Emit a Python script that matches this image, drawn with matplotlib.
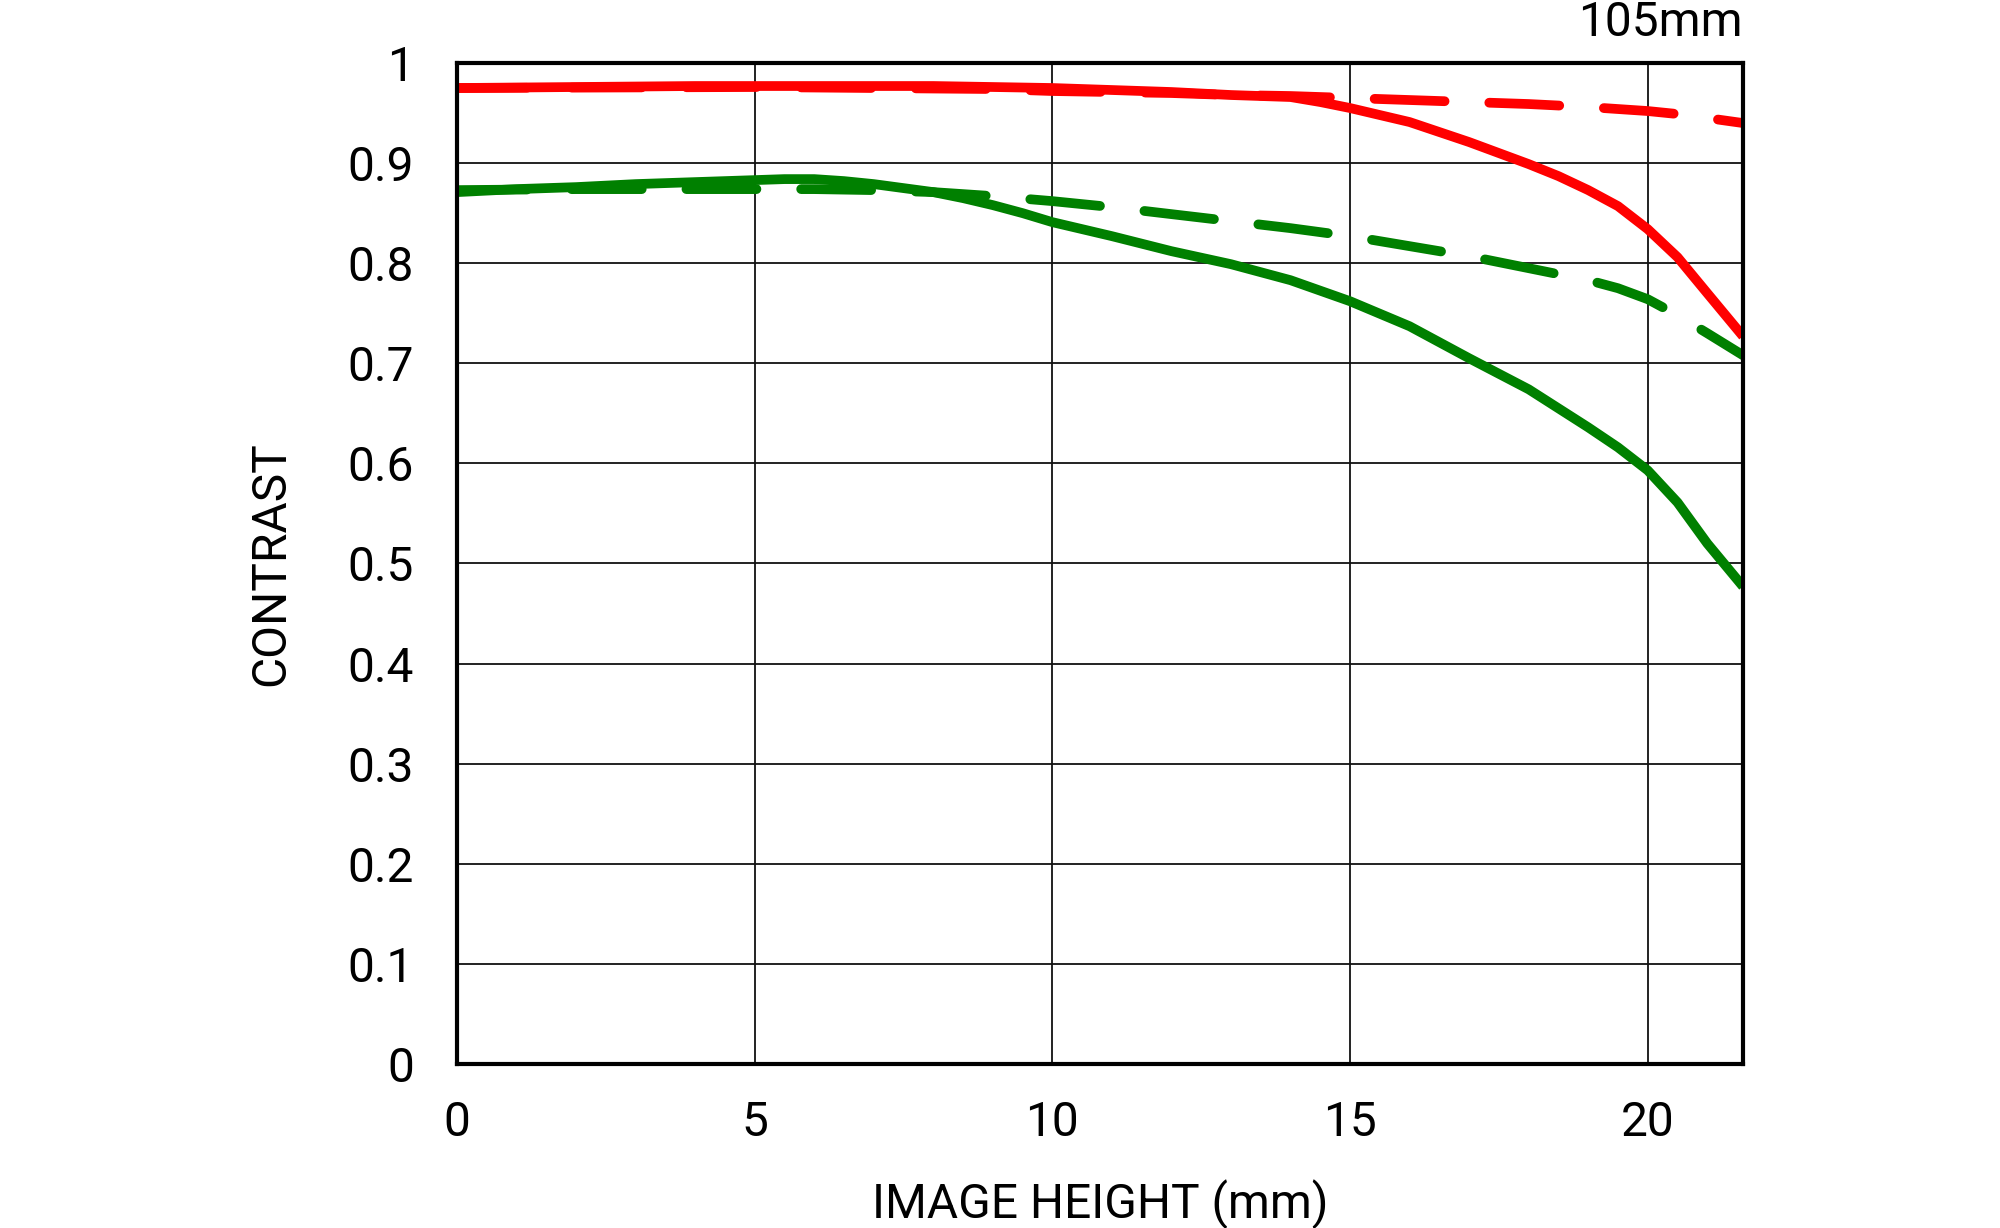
import matplotlib
matplotlib.use("Agg")
from matplotlib import pyplot as plt

plt.rcParams['font.family'] = ['Roboto', 'DejaVu Sans']

# red lines
x_red_solid = [0, 2, 4, 6, 8, 9, 10, 11, 12, 13, 14, 14.5, 15, 15.5, 16, 16.5, 17, 17.5, 18, 18.5,
               19, 19.5, 20, 20.5, 21, 21.6]
y_red_solid = [0.975, 0.976, 0.977, 0.977, 0.977, 0.976, 0.975, 0.973, 0.971, 0.968, 0.966, 0.961,
               0.955, 0.948, 0.941, 0.931, 0.921, 0.910, 0.899, 0.887, 0.873, 0.857, 0.834, 0.806,
               0.770, 0.727]

x_red_dash = [0, 5, 9, 10, 12, 13, 14, 15, 16, 17, 18, 19, 20, 20.5, 21, 21.6]
y_red_dash = [0.975, 0.976, 0.974, 0.972, 0.970, 0.968, 0.967, 0.965, 0.963, 0.961, 0.959, 0.956,
              0.952, 0.949, 0.945, 0.940]

# green lines
x_green_solid = [0, 1, 2, 3, 4, 5, 5.5, 6, 6.5, 7, 7.5, 8, 8.5, 9, 9.5, 10, 11, 12, 13, 14, 15, 16,
                 17, 18, 18.5, 19, 19.5, 20, 20.5, 21, 21.6]
y_green_solid = [0.871, 0.874, 0.876, 0.879, 0.881, 0.883, 0.884, 0.884, 0.882, 0.879, 0.875, 0.871,
                 0.865, 0.858, 0.850, 0.841, 0.827, 0.812, 0.799, 0.783, 0.762, 0.737, 0.705, 0.674,
                 0.655, 0.636, 0.616, 0.593, 0.561, 0.520, 0.477]

x_green_dash = [0, 2, 4, 6, 7, 8, 9, 10, 11, 12, 13, 14, 15, 16, 17, 18, 19, 19.5, 20, 20.5, 21, 21.6]
y_green_dash = [0.873, 0.874, 0.874, 0.874, 0.873, 0.871, 0.867, 0.862, 0.856, 0.849, 0.842, 0.835,
                0.827, 0.817, 0.807, 0.795, 0.783, 0.775, 0.764, 0.748, 0.730, 0.708]

x_ticks = [0, 5, 10, 15, 20]
y_ticks = [0, 0.1, 0.2, 0.3, 0.4, 0.5, 0.6, 0.7, 0.8, 0.9, 1]
y_tick_labels = ['0', '0.1', '0.2', '0.3', '0.4', '0.5', '0.6', '0.7', '0.8', '0.9', '1']

fig = plt.figure(figsize=(20, 12.28), dpi=100)
ax = fig.add_axes([0.2285, 0.1336, 0.6430, 0.8151])

lw = 7
dash = (7.2, 4.6)
ax.plot(x_red_solid, y_red_solid, color='#ff0000', lw=lw, solid_capstyle='butt', zorder=3)
ax.plot(x_red_dash, y_red_dash, color='#ff0000', lw=lw, dashes=dash, dash_capstyle='round', zorder=3)
ax.plot(x_green_solid, y_green_solid, color='#008000', lw=lw, solid_capstyle='butt', zorder=3)
ax.plot(x_green_dash, y_green_dash, color='#008000', lw=lw, dashes=dash, dash_capstyle='round', zorder=3)

ax.set_xlim(0, 21.6)
ax.set_ylim(0, 1)
ax.set_xticks(x_ticks)
ax.set_yticks(y_ticks)
ax.set_yticklabels(y_tick_labels)
ax.grid(True, color='#111111', lw=1.3, zorder=1)
ax.set_axisbelow(True)
ax.tick_params(axis='both', length=0, labelsize=34.5)
ax.tick_params(axis='y', pad=31)
ax.tick_params(axis='x', pad=26)

for s in ax.spines.values():
    s.set_linewidth(3)
    s.set_color('black')
    s.set_zorder(4)

ax.set_xlabel('IMAGE HEIGHT (mm)', fontsize=34.5, labelpad=24)
ax.set_ylabel('CONTRAST', fontsize=34.5, labelpad=38)
ax.text(1.0, 1.027, '105mm', transform=ax.transAxes, ha='right', va='baseline', fontsize=34.5)

fig.savefig('out.png', dpi=100)
